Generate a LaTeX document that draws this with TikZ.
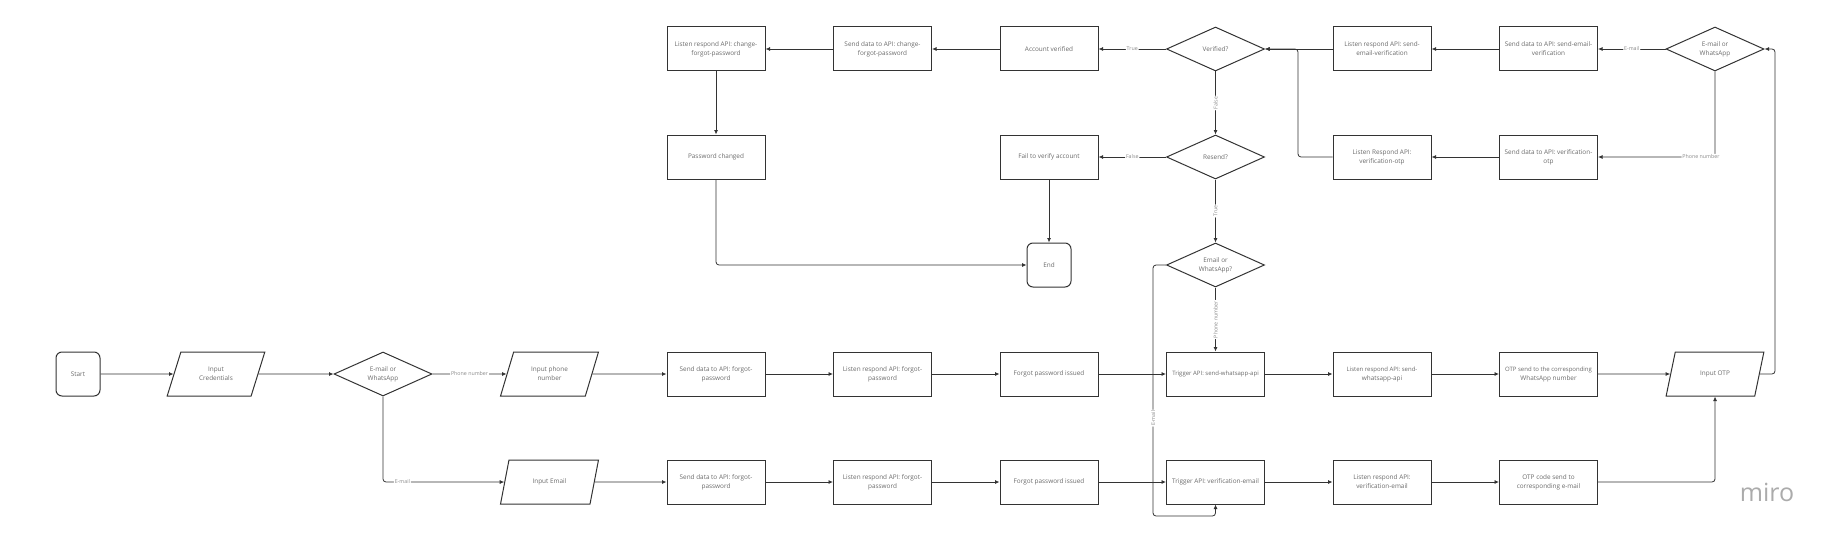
\documentclass[tikz,border=0pt]{standalone}
\usepackage{fontspec}
\setmainfont{Open Sans}
\usetikzlibrary{shapes.geometric,arrows.meta}
\definecolor{linec}{HTML}{333333}
\definecolor{txtc}{HTML}{6A6A6A}
\definecolor{lblc}{HTML}{8A8A8A}
\definecolor{logoc}{HTML}{ABABAB}
\begin{document}
\begin{tikzpicture}[x=1pt,y=-1pt,
 base/.style={draw=linec, line width=1pt, text=txtc, font=\fontsize{6.4}{9}\selectfont, align=center, inner sep=1pt},
 box/.style={base, rectangle, minimum width=98pt, minimum height=44pt},
 term/.style={base, rectangle, rounded corners=6pt, minimum width=44pt, minimum height=44pt},
 decision/.style={base, diamond, aspect=2.2, minimum width=98pt, minimum height=44pt, inner sep=0pt},
 io/.style={base, trapezium, trapezium left angle=66, trapezium right angle=114, trapezium stretches=true, minimum width=98pt, minimum height=44pt},
 arr/.style={draw=linec, line width=0.8pt, -{Latex[length=4.5pt,width=4pt]}, rounded corners=3pt},
 lbl/.style={fill=white, text=lblc, font=\fontsize{5.3}{6}\selectfont, inner sep=1pt},
]
\useasboundingbox (0,0) rectangle (1839,543);
% bottom row A
\node[term] (start) at (78,374) {Start};
\node[io] (cred) at (216,374) {Input\\Credentials};
\node[decision] (d1) at (383,374) {E-mail or\\WhatsApp};
\node[io] (phone) at (549.5,374) {Input phone\\number};
\node[box] (sA1) at (716,374) {Send data to API: forgot-\\password};
\node[box] (lA1) at (882.5,374) {Listen respond API: forgot-\\password};
\node[box] (fA) at (1049,374) {Forgot password issued};
\node[box] (tw) at (1215.5,374) {\fontsize{6}{9}\selectfont Trigger API: send-whatsapp-api};
\node[box] (lw) at (1382,374) {\fontsize{6}{9}\selectfont Listen respond API: send-\\whatsapp-api};
\node[box] (ow) at (1548.5,374) {\fontsize{6}{9}\selectfont OTP send to the corresponding\\WhatsApp number};
\node[io] (otp) at (1715,374) {Input OTP};
% bottom row B
\node[io] (email) at (549.5,482) {Input Email};
\node[box] (sB1) at (716,482) {Send data to API: forgot-\\password};
\node[box] (lB1) at (882.5,482) {Listen respond API: forgot-\\password};
\node[box] (fB) at (1049,482) {Forgot password issued};
\node[box] (te) at (1215.5,482) {Trigger API: verification-email};
\node[box] (le) at (1382,482) {Listen respond API:\\verification-email};
\node[box] (oe) at (1548.5,482) {OTP code send to\\corresponding e-mail};
% top row
\node[box] (lc) at (716,49) {Listen respond API: change-\\forgot-password};
\node[box] (sc) at (882.5,49) {Send data to API: change-\\forgot-password};
\node[box] (av) at (1049,49) {Account verified};
\node[decision] (ver) at (1215.5,49) {Verified?};
\node[box] (lev) at (1382,49) {Listen respond API: send-\\email-verification};
\node[box] (sev) at (1548.5,49) {Send data to API: send-email-\\verification};
\node[decision] (d2) at (1715,49) {E-mail or\\WhatsApp};
% second row
\node[box] (pc) at (716,157) {Password changed};
\node[box] (fail) at (1049,157) {Fail to verify account};
\node[decision] (res) at (1215.5,157) {Resend?};
\node[box] (lvo) at (1382,157) {Listen Respond API:\\verification-otp};
\node[box] (svo) at (1548.5,157) {Send data to API: verification-\\otp};
% third row
\node[term] (end) at (1049,265) {End};
\node[decision] (d3) at (1215.5,265) {Email or\\WhatsApp?};
% logo
\node[text=logoc, font=\fontsize{25}{25}\selectfont, inner sep=0pt] (logo) at (1767,492) {miro};
% bend coordinates
\coordinate (otpk) at (1775,49);
\coordinate (mk) at (1298,49);
\coordinate (lp1) at (1153,265);
\coordinate (lp2) at (1153,516);
\coordinate (lp3) at (1215.5,516);
% connectors row A
\draw[arr] (start) -- (cred);
\draw[arr] (cred) -- (d1);
\draw[arr] (d1) -- node[lbl]{Phone number} (phone);
\draw[arr] (d1.south) |- node[lbl,pos=0.58]{E-mail} (email.west);
\draw[arr] (phone) -- (sA1);
\draw[arr] (sA1) -- (lA1);
\draw[arr] (lA1) -- (fA);
\draw[arr] (fA) -- (tw);
\draw[arr] (tw) -- (lw);
\draw[arr] (lw) -- (ow);
\draw[arr] (ow) -- (otp);
% row B
\draw[arr] (email) -- (sB1);
\draw[arr] (sB1) -- (lB1);
\draw[arr] (lB1) -- (fB);
\draw[arr] (fB) -- (te);
\draw[arr] (te) -- (le);
\draw[arr] (le) -- (oe);
\draw[arr] (oe.east) -| (otp.south);
% OTP to verification
\draw[arr] (otp.east) -| (otpk) -- (d2.east);
\draw[arr] (d2.west) -- node[lbl]{E-mail} (sev.east);
\draw[arr] (d2.south) |- node[lbl,pos=0.56]{Phone number} (svo.east);
\draw[arr] (sev) -- (lev);
\draw[arr] (svo) -- (lvo);
\draw[arr] (lev.west) -- (ver.east);
\draw[arr] (lvo.west) -| (mk) -- (ver.east);
\draw[arr] (ver.west) -- node[lbl]{True} (av.east);
\draw[arr] (ver.south) -- node[lbl,rotate=90]{False} (res.north);
\draw[arr] (av) -- (sc);
\draw[arr] (sc) -- (lc);
\draw[arr] (lc) -- (pc);
\draw[arr] (pc.south) |- (end.west);
\draw[arr] (res.west) -- node[lbl]{False} (fail.east);
\draw[arr] (fail) -- (end);
\draw[arr] (res.south) -- node[lbl,rotate=90]{True} (d3.north);
\draw[arr] (d3.south) -- node[lbl,rotate=90]{Phone number} (tw.north);
\draw[arr] (d3.west) -- (lp1) -- node[lbl,rotate=90,pos=0.61]{E-mail} (lp2) -- (lp3) -- (te.south);
\end{tikzpicture}
\end{document}
